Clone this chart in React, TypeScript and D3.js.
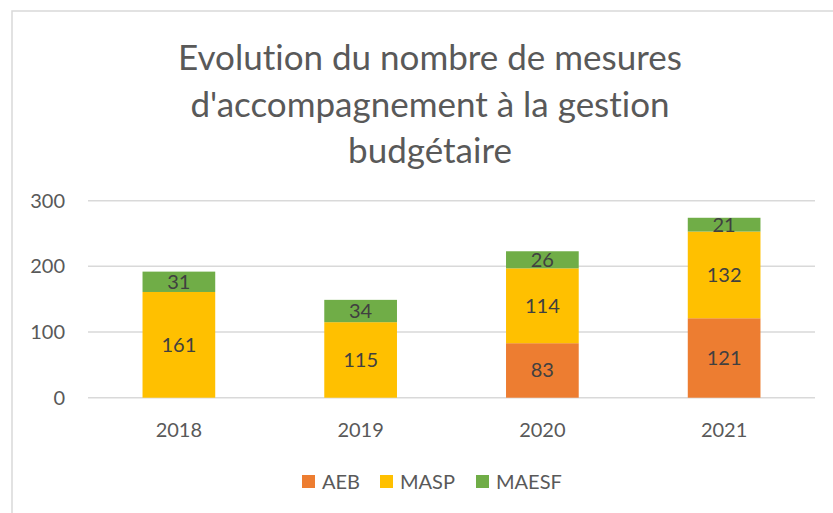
import React from "react";
import * as d3 from "d3";

const categories = ["2018", "2019", "2020", "2021"];
const seriesNames = ["AEB", "MASP", "MAESF"];
const AEB = [0, 0, 83, 121];
const MASP = [161, 115, 114, 132];
const MAESF = [31, 34, 26, 21];
const yTicks = [0, 100, 200, 300];
const titleLines = [
  "Evolution du nombre de mesures",
  "d'accompagnement à la gestion",
  "budgétaire",
];
const colors = ["#ED7D31", "#FFC000", "#70AD47"];

const W = 833;
const H = 513;
const FONT = "Lato, 'Open Sans', sans-serif";
const noLig = { fontVariantLigatures: "none", fontFeatureSettings: "'liga' 0, 'clig' 0, 'dlig' 0" } as any;

export default function App() {
  const x = d3.scaleBand<string>().domain(categories).range([88, 815]).padding(0);
  const y = d3.scaleLinear().domain([0, 300]).range([397.7, 200.7]);
  const barW = x.bandwidth() * 0.4;

  const table = categories.map((c, i) => ({
    cat: c,
    AEB: AEB[i],
    MASP: MASP[i],
    MAESF: MAESF[i],
  }));
  const stack = d3.stack<any>().keys(seriesNames);
  const layers = stack(table);

  const legendItems = [
    { name: "AEB", sx: 302, tx: 322 },
    { name: "MASP", sx: 380, tx: 400 },
    { name: "MAESF", sx: 476, tx: 496 },
  ];

  return (
    <svg
      width={W}
      height={H}
      style={{ position: "absolute", left: 0, top: 0, background: "#fff", ...noLig }}
      fontFamily={FONT}
    >
      <rect x={12} y={11} width={W} height={H} fill="#fff" stroke="#d9d9d9" strokeWidth={1.5} />
      {titleLines.map((t, i) => (
        <text
          key={i}
          x={430}
          y={70 + i * 46.5}
          textAnchor="middle"
          fontSize={35}
          fill="#595959"
          style={noLig}
        >
          {t}
        </text>
      ))}
      {yTicks.map((t) => (
        <g key={t}>
          <line x1={88} x2={815} y1={y(t)} y2={y(t)} stroke="#d9d9d9" strokeWidth={1.5} />
          <text x={65} y={y(t)} dy="0.35em" textAnchor="end" fontSize={20} fill="#595959">
            {t}
          </text>
        </g>
      ))}
      {layers.map((layer, li) => (
        <g key={layer.key}>
          {layer.map((d, i) => {
            const v = d[1] - d[0];
            if (v <= 0) return null;
            const cx = (x(categories[i]) as number) + x.bandwidth() / 2;
            return (
              <g key={i}>
                <rect
                  x={cx - barW / 2}
                  y={y(d[1])}
                  width={barW}
                  height={y(d[0]) - y(d[1])}
                  fill={colors[li]}
                />
                <text
                  x={cx}
                  y={(y(d[0]) + y(d[1])) / 2}
                  dy="0.35em"
                  textAnchor="middle"
                  fontSize={20}
                  fill="#404040"
                >
                  {v}
                </text>
              </g>
            );
          })}
        </g>
      ))}
      {categories.map((c) => (
        <text
          key={c}
          x={(x(c) as number) + x.bandwidth() / 2}
          y={430}
          dy="0.35em"
          textAnchor="middle"
          fontSize={20}
          fill="#595959"
        >
          {c}
        </text>
      ))}
      {legendItems.map((l, i) => (
        <g key={l.name}>
          <rect x={l.sx} y={475} width={13} height={13} fill={colors[i]} />
          <text x={l.tx} y={482} dy="0.35em" fontSize={20} fill="#595959">
            {seriesNames[i]}
          </text>
        </g>
      ))}
    </svg>
  );
}
